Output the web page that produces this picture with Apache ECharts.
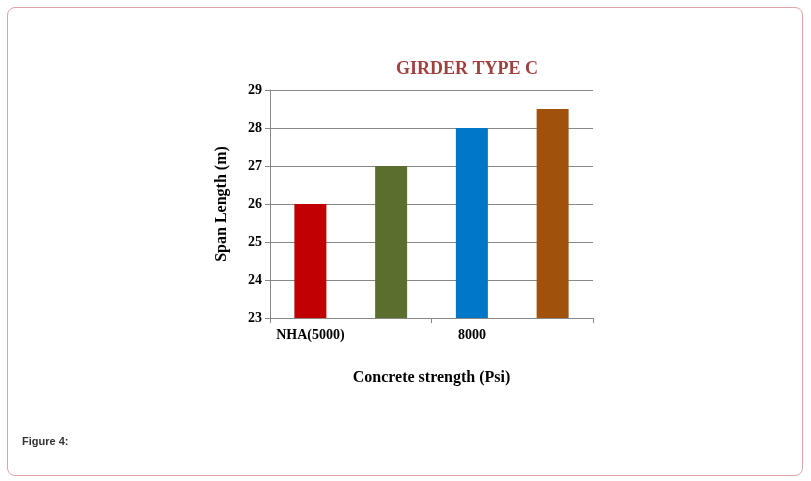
<!DOCTYPE html>
<html><head><meta charset="utf-8">
<script src="https://cdn.jsdelivr.net/npm/echarts@6/dist/echarts.min.js"></script>
<style>
body{margin:0;background:#fff;}
#frame{position:absolute;left:7px;top:7px;width:794px;height:467px;border:1px solid #e3a3ab;border-radius:8px;}
#c{position:absolute;left:0;top:0;width:811px;height:481px;}
#cap{position:absolute;left:22px;top:435px;font:bold 11px Arial,"Liberation Sans",sans-serif;color:#333;}
</style></head>
<body><div id="frame"></div><div id="c"></div><div id="cap">Figure 4:</div>
<script>
var categories = ["NHA(5000)", "7000", "8000", "9000"];
var values = [26, 27, 28, 28.5];
var colors = ["#c00000", "#5a6e2e", "#0077c8", "#a0520d"];
var chart = echarts.init(document.getElementById('c'));
var serif = '"Liberation Serif","DejaVu Serif",serif';
chart.setOption({
  animation:false,
  title:{text:"GIRDER TYPE C", left:462, top:55, textAlign:'center',
    textStyle:{fontFamily:serif, fontWeight:'bold', fontSize:18, color:'#a0403d'}},
  grid:{left:270, right:218, top:90, bottom:163},
  xAxis:{type:'category', data:categories,
    name:"Concrete strength (Psi)", nameLocation:'middle', nameGap:52,
    nameTextStyle:{fontFamily:serif, fontWeight:'bold', fontSize:16, color:'#000'},
    axisLine:{lineStyle:{color:'#888'}},
    axisTick:{show:true, alignWithLabel:false, lineStyle:{color:'#888'}},
    axisLabel:{interval:1, fontFamily:serif, fontWeight:'bold', fontSize:14, color:'#000', margin:10}},
  yAxis:{type:'value', min:23, max:29, interval:1,
    name:"Span Length (m)", nameLocation:'middle', nameGap:40,
    nameTextStyle:{fontFamily:serif, fontWeight:'bold', fontSize:16, color:'#000'},
    axisLine:{show:true, lineStyle:{color:'#888'}},
    axisTick:{show:true, lineStyle:{color:'#888'}},
    splitLine:{lineStyle:{color:'#888'}},
    axisLabel:{fontFamily:serif, fontWeight:'bold', fontSize:14, color:'#000'}},
  series:[{type:'bar', barWidth:32,
    data:values.map(function(v,i){return {value:v, itemStyle:{color:colors[i]}};})}]
});
</script></body></html>
